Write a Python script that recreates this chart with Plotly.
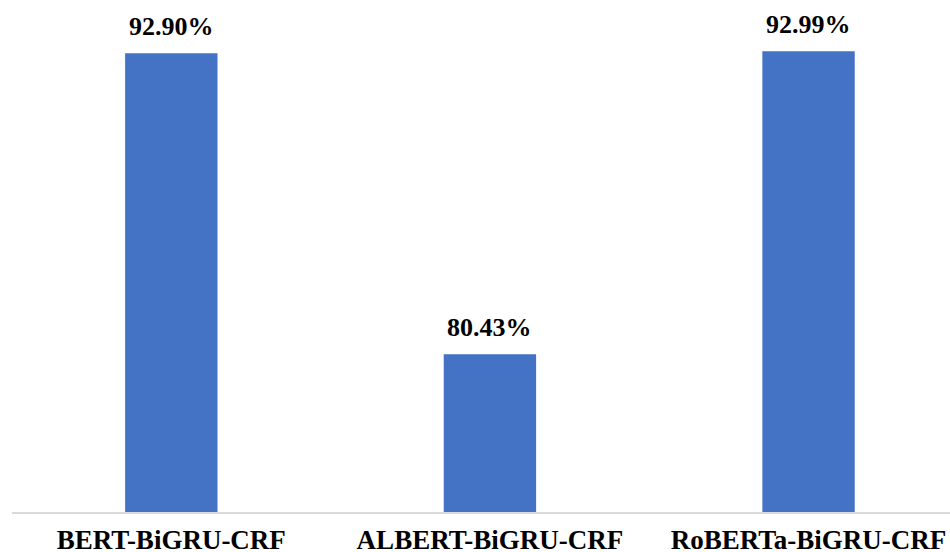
import plotly.graph_objects as go

# Model names and their scores (%)
models = ["BERT-BiGRU-CRF", "ALBERT-BiGRU-CRF", "RoBERTa-BiGRU-CRF"]
scores = [92.90, 80.43, 92.99]
score_labels = ["92.90%", "80.43%", "92.99%"]

BAR_COLOR = "#4472C4"
FONT = "Liberation Serif, Times New Roman, serif"

fig = go.Figure(
    go.Bar(
        x=models,
        y=scores,
        width=0.29,
        marker=dict(color=BAR_COLOR, line=dict(width=0)),
        hoverinfo="skip",
    )
)

# Value labels above each bar
for m, v, lab in zip(models, scores, score_labels):
    fig.add_annotation(
        x=m, y=v, text=lab, showarrow=False,
        yanchor="bottom", yshift=10,
        font=dict(family=FONT, size=26, color="#000000", weight="bold"),
    )

fig.update_layout(
    width=950, height=552,
    margin=dict(l=12, r=0, t=20, b=40),
    paper_bgcolor="white", plot_bgcolor="white",
    showlegend=False,
    font=dict(family=FONT),
    xaxis=dict(
        range=[-0.5, 2.444],
        automargin=False,
        showline=True, linecolor="#D9D9D9", linewidth=2,
        showgrid=False, zeroline=False, ticks="",
        ticklabelstandoff=3,
        tickfont=dict(family=FONT, size=27, color="#000000", weight="bold"),
        tickvals=models,
        ticktext=models,
    ),
    yaxis=dict(
        range=[73.9, 94.28],
        visible=False, showgrid=False, zeroline=False,
    ),
)

fig.write_html("out.html")
